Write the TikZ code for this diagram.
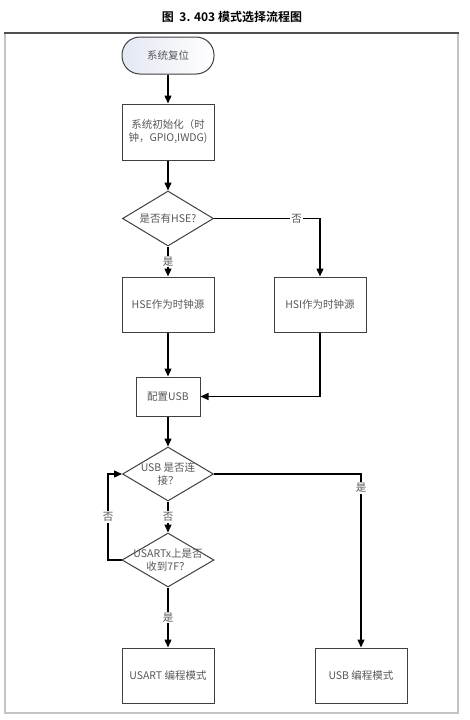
\documentclass[tikz,border=0pt]{standalone}
\usepackage{fontspec}
\newfontfamily\cjk{Noto Sans CJK SC}
\newfontfamily\cjkb{Noto Sans CJK SC Bold}
\usetikzlibrary{arrows.meta,shapes.geometric}
\definecolor{txtc}{HTML}{585858}
\definecolor{boxc}{HTML}{404040}
\definecolor{framel}{HTML}{C4C4C4}
\definecolor{framet}{HTML}{505050}
\definecolor{startl}{HTML}{E4E8F3}
\tikzset{
  box/.style={draw=boxc, line width=1pt, minimum width=92pt, minimum height=55pt, inner sep=0pt,
    text=txtc, font=\cjk\fontsize{10.5}{13}\selectfont, align=center},
  dia/.style={draw=boxc, line width=1pt, diamond, minimum width=91pt, minimum height=55pt, inner sep=0pt},
  diatext/.style={inner sep=0pt, text=txtc, font=\cjk\fontsize{10.5}{13}\selectfont, align=center},
  terminal/.style={draw=boxc, line width=1pt, rounded corners=18pt, minimum width=92pt, minimum height=37pt,
    inner sep=0pt, left color=startl, right color=white, text=txtc, font=\cjk\fontsize{10.5}{13}\selectfont},
  conn/.style={line width=1.3pt, -{Triangle[length=8pt,width=7pt]}},
  plain/.style={line width=1.3pt},
  lbl/.style={fill=white, inner sep=1pt, text=txtc, font=\cjk\fontsize{10.5}{13}\selectfont},
}
\begin{document}
\begin{tikzpicture}[x=1pt,y=-1pt]
\useasboundingbox (0,0) rectangle (469,720);
\fill[white] (0,0) rectangle (469,720);
% title
\node[font=\cjkb\fontsize{12}{14}\selectfont, text=black] (title) at (232,17) {图\ \ 3. 403 模式选择流程图};
% frame
\draw[framel, line width=2pt] (5,33) -- (5,713) -- (458,713) -- (458,33);
\draw[framet, line width=1.3pt] (4,33) -- (459,33);
% nodes
\node[terminal] (start) at (168,55.5) {系统复位};
\node[box, minimum height=56pt] (init) at (168,132) {系统初始化（时\\钟，GPIO,IWDG)};
\node[dia] (d0) at (168,218.5) {};
\node[diatext] (d0t) at (168,218.5) {是否有HSE?};
\node[box] (hse) at (168,304.5) {HSE作为时钟源};
\node[box] (hsi) at (320,304.5) {HSI作为时钟源};
\node[box, minimum width=64pt, minimum height=39pt] (cfg) at (168,396.5) {配置USB};
\node[dia, minimum height=54pt] (d1) at (168,474) {};
\node[diatext] (d1t) at (168,474) {USB 是否连\\接？};
\node[dia, minimum width=92pt, minimum height=54pt] (d2) at (168,560) {};
\node[diatext] (d2t) at (168,560) {USARTx上是否\\收到7F？};
\node[box] (usart) at (168,675.5) {USART 编程模式};
\node[box] (usb) at (361,675.5) {USB 编程模式};
\coordinate (c0) at (320,218.5);
\coordinate (c1) at (320,396.5);
\coordinate (c2) at (361,474);
\coordinate (c3) at (108,560);
\coordinate (c4) at (108,474);
% connectors
\draw[conn] (start) -- (init);
\draw[conn] (init) -- (d0);
\draw[conn] (d0) -- node[lbl, pos=0.5] (l1) {是} (hse);
\draw[conn] (d0.east) -- node[lbl, pos=0.78] (l2) {否} (c0) -- (hsi);
\draw[conn] (hse) -- (cfg);
\draw[conn] (hsi) -- (c1) -- (cfg.east);
\draw[conn] (cfg) -- (d1);
\draw[conn] (d1.east) -- (c2) -- node[lbl, pos=0.08] (l3) {是} (usb);
\draw[conn] (d1) -- node[lbl, pos=0.5] (l4) {否} (d2);
\draw[conn] (d2.west) -- (c3) -- node[lbl, pos=0.5] (l5) {否} (c4) -- (d1.west);
\draw[conn] (d2) -- node[lbl, pos=0.5] (l6) {是} (usart);
\end{tikzpicture}
\end{document}
